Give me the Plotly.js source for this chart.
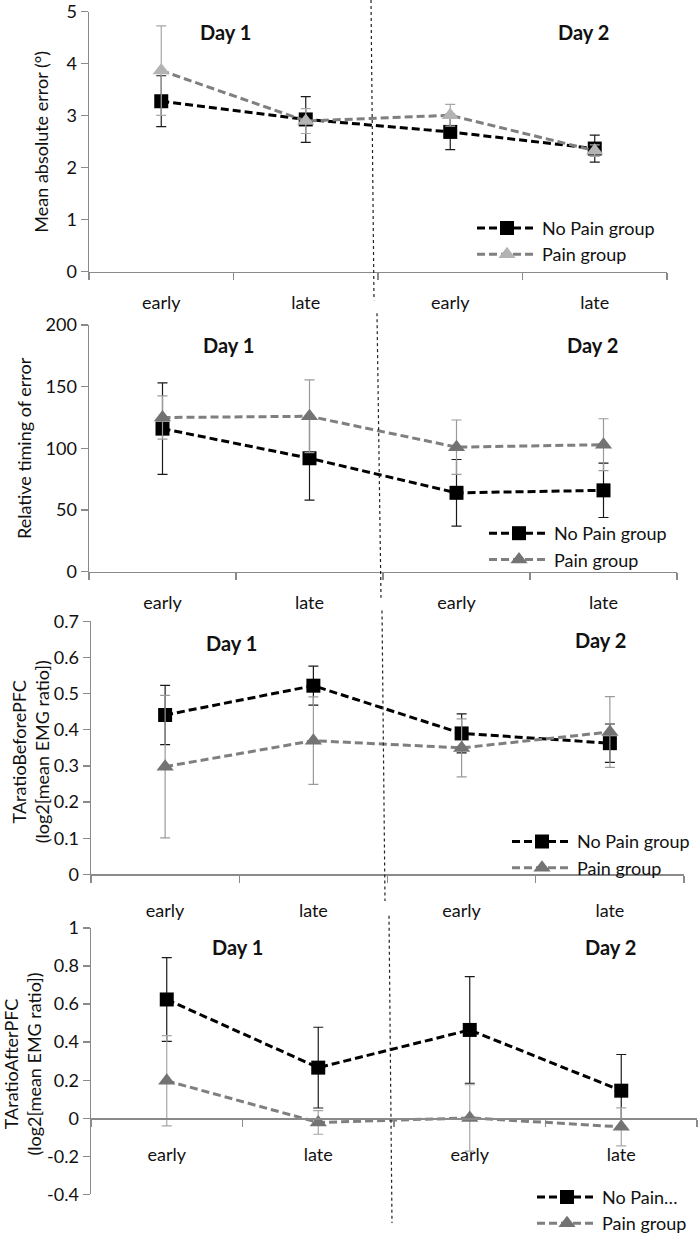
<!DOCTYPE html>
<html><head><meta charset="utf-8">
<script src="https://cdn.plot.ly/plotly-3.0.1.min.js"></script>
<style>body{margin:0;background:#fff}#chart{width:700px;height:1242px}</style>
</head><body><div id="chart"></div>
<script>
// ---- data ----
const categories = ['early', 'late', 'early', 'late'];
const dayLabels = ['Day 1', 'Day 2'];
const seriesNames = ['No Pain group', 'Pain group'];
const shortNoPainName = 'No Pain…';

const maeNoPain = [3.28, 2.93, 2.69, 2.37];
const maeNoPainErr = [0.49, 0.44, 0.34, 0.26];
const maePain = [3.87, 2.90, 3.01, 2.33];
const maePainErr = [0.86, 0.24, 0.21, 0.11];

const timingNoPain = [116, 92, 64, 66];
const timingNoPainErr = [37, 34, 27, 22];
const timingPain = [125, 126, 101, 103];
const timingPainErr = [17.5, 29.5, 22, 21];

const beforeNoPain = [0.441, 0.522, 0.390, 0.363];
const beforeNoPainErr = [0.082, 0.054, 0.054, 0.053];
const beforePain = [0.298, 0.370, 0.350, 0.394];
const beforePainErr = [0.197, 0.121, 0.080, 0.098];

const afterNoPain = [0.624, 0.266, 0.464, 0.145];
const afterNoPainErr = [0.220, 0.212, 0.280, 0.190];
const afterPain = [0.197, -0.022, 0.002, -0.045];
const afterPainErr = [0.237, 0.062, 0.174, 0.100];

const afterTickVals = [-0.4, -0.2, 0, 0.2, 0.4, 0.6, 0.8, 1];
const afterTickText = ['-0.4', '-0.2', '0', '0.2', '0.4', '0.6', '0.8', '1'];

// ---- layout helpers ----
const W = 700, H = 1242;
const px = v => v / W;
const py = v => 1 - v / H;
const FONT = 'Lato, "Open Sans", sans-serif';
const TXT = '#111';
const AXIS_COLOR = '#8a8a8a';
const xIdx = categories.map((c, i) => i);

const panels = [
  { nA: maeNoPain, eA: maeNoPainErr, nB: maePain, eB: maePainErr,
    yrange: [0, 5], dtick: 1, title: 'Mean absolute error (°)', titleAnn: false, standoff: 13,
    xd: [89, 667], yd: [276, 12], triColor: '#b3b3b3', triErr: '#a6a6a6', xstand: 14,
    leg: [472, 213], d1: [225, 32], d2: [583, 32], div: [[371, 0], [374, 305]], nameA: seriesNames[0] },
  { nA: timingNoPain, eA: timingNoPainErr, nB: timingPain, eB: timingPainErr,
    yrange: [0, 200], dtick: 50, title: 'Relative timing of error', titleAnn: false, standoff: 9,
    xd: [89, 677], yd: [580.7, 330], triColor: '#737373', triErr: '#9a9a9a', xstand: 14,
    leg: [484, 523], d1: [228, 350], d2: [592, 350], div: [[377, 318], [381, 607]], nameA: seriesNames[0] },
  { nA: beforeNoPain, eA: beforeNoPainErr, nB: beforePain, eB: beforePainErr,
    yrange: [0, 0.7], dtick: 0.1, title: 'TAratioBeforePFC<br>(log2[mean EMG ratio])', titleAnn: true, tx: 30, ty: 764,
    xd: [91, 684], yd: [888, 631], triColor: '#737373', triErr: '#9a9a9a', xstand: 19,
    leg: [507, 836], d1: [232, 653], d2: [600, 650], div: [[382, 620], [385, 915]], nameA: seriesNames[0] },
  { nA: afterNoPain, eA: afterNoPainErr, nB: afterPain, eB: afterPainErr,
    yrange: [-0.4, 1], tickvals: afterTickVals, ticktext: afterTickText,
    title: 'TAratioAfterPFC<br>(log2[mean EMG ratio])', titleAnn: true, tx: 22, ty: 1081,
    xd: [91, 697], yd: [1213, 942.3], triColor: '#737373', triErr: '#a6a6a6', xstand: 20,
    leg: [532, 1197], d1: [237, 962], d2: [610, 962], div: [[389, 930], [392, 1242]], nameA: shortNoPainName }
];

const traces = [];
const layout = {
  width: W, height: H,
  margin: { l: 0, r: 0, t: 0, b: 0 },
  paper_bgcolor: '#fff', plot_bgcolor: 'rgba(0,0,0,0)',
  font: { family: FONT, size: 18, color: TXT },
  showlegend: true,
  annotations: [], shapes: []
};

panels.forEach((p, k) => {
  const n = k + 1;
  const sfx = n === 1 ? '' : String(n);
  const xa = 'x' + sfx, ya = 'y' + sfx;
  const legName = n === 1 ? 'legend' : 'legend' + n;

  traces.push({
    type: 'scatter', mode: 'lines+markers', x: xIdx, y: p.nA, xaxis: xa, yaxis: ya,
    name: p.nameA, legend: legName,
    line: { color: '#000', width: 3, dash: '8px,4px' },
    marker: { symbol: 'square', size: 14, color: '#000' },
    error_y: { type: 'data', array: p.eA, visible: true, color: '#1a1a1a', thickness: 1.2, width: 5 },
    cliponaxis: false
  });
  traces.push({
    type: 'scatter', mode: 'lines+markers', x: xIdx, y: p.nB, xaxis: xa, yaxis: ya,
    name: seriesNames[1], legend: legName,
    line: { color: '#7f7f7f', width: 3, dash: '8px,4px' },
    marker: { symbol: 'triangle-up', size: 15, color: p.triColor },
    error_y: { type: 'data', array: p.eB, visible: true, color: p.triErr, thickness: 1.2, width: 5 },
    cliponaxis: false
  });

  const yDomain = [py(p.yd[0]), py(p.yd[1])];
  const xDomain = [px(p.xd[0]), px(p.xd[1])];
  const zeroFrac = yDomain[0] + (0 - p.yrange[0]) / (p.yrange[1] - p.yrange[0]) * (yDomain[1] - yDomain[0]);

  layout['xaxis' + sfx] = {
    domain: xDomain, range: [-0.5, 3.5], anchor: p.yrange[0] < 0 ? 'free' : ya,
    position: zeroFrac,
    tickmode: 'array', tickvals: xIdx, ticktext: categories, ticks: '',
    ticklabelstandoff: p.xstand,
    minor: { tickmode: 'array', tickvals: [-0.5, 0.5, 1.5, 2.5, 3.5], ticks: 'outside', ticklen: 7, tickcolor: AXIS_COLOR, tickwidth: 1.3 },
    showline: true, linecolor: AXIS_COLOR, linewidth: 1.5,
    showgrid: false, zeroline: false, fixedrange: true,
    tickfont: { family: FONT, size: 18, color: TXT }
  };
  const yax = {
    domain: yDomain, range: p.yrange, anchor: xa,
    ticks: 'outside', ticklen: 7, tickcolor: AXIS_COLOR, tickwidth: 1.3,
    showline: true, linecolor: AXIS_COLOR, linewidth: 1.5,
    showgrid: false, zeroline: false, fixedrange: true,
    tickfont: { family: FONT, size: 18, color: TXT }
  };
  if (p.tickvals) { yax.tickmode = 'array'; yax.tickvals = p.tickvals; yax.ticktext = p.ticktext; }
  else { yax.tickmode = 'linear'; yax.tick0 = p.yrange[0]; yax.dtick = p.dtick; }
  if (!p.titleAnn) {
    yax.title = { text: p.title, font: { family: FONT, size: 18, color: TXT }, standoff: p.standoff };
  } else {
    layout.annotations.push({
      xref: 'paper', yref: 'paper', x: px(p.tx), y: py(p.ty), xanchor: 'center', yanchor: 'middle',
      text: p.title, textangle: -90, showarrow: false,
      font: { family: FONT, size: 18, color: TXT }
    });
  }
  layout['yaxis' + sfx] = yax;

  layout[legName] = {
    x: px(p.leg[0]), y: py(p.leg[1]), xanchor: 'left', yanchor: 'top',
    bgcolor: 'rgba(0,0,0,0)', borderwidth: 0,
    font: { family: FONT, size: 18, color: TXT },
    itemwidth: 60, tracegroupgap: 0
  };

  [p.d1, p.d2].forEach((d, i) => {
    layout.annotations.push({
      xref: 'paper', yref: 'paper', x: px(d[0]), y: py(d[1]), xanchor: 'center', yanchor: 'middle',
      text: '<b>' + dayLabels[i] + '</b>', showarrow: false,
      font: { family: FONT, size: 20, color: '#111' }
    });
  });

  layout.shapes.push({
    type: 'line', xref: 'paper', yref: 'paper',
    x0: px(p.div[0][0]), y0: py(p.div[0][1]), x1: px(p.div[1][0]), y1: py(p.div[1][1]),
    line: { color: '#222', width: 1.2, dash: 'dot' }
  });
});

Plotly.newPlot('chart', traces, layout, { displayModeBar: false, staticPlot: true });
</script>
</body></html>
